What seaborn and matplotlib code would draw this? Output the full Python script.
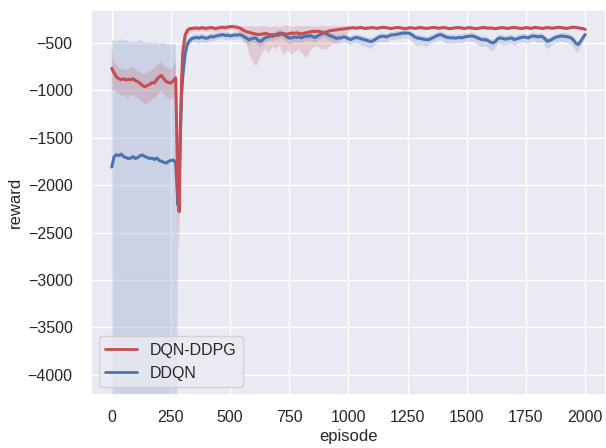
import matplotlib
matplotlib.use("Agg")
import matplotlib.pyplot as plt
import seaborn as sns
from matplotlib.lines import Line2D

# ---------------- data ----------------
ep_early = list(range(0, 280, 10))                 # 0..270
ep_crash = [275, 280, 285, 290, 295, 300]
ep_late = list(range(310, 2001, 10))               # 310..2000
episodes = ep_early + ep_crash + ep_late

red_mean = [
    -770, -820, -860, -880, -890, -880, -895, -885, -890, -880,
    -900, -910, -930, -950, -965, -950, -940, -920, -925, -890,
    -860, -845, -880, -910, -920, -925, -900, -870,
    -1500, -2150, -2280, -1400, -900, -600,
    -420, -370, -352, -350, -348, -345, -350, -342, -346, -350,
    -344, -340, -347, -352, -345, -340, -338, -342, -335, -332,
    -330, -334, -340, -345, -360, -375, -385, -392, -398, -405,
    -410, -415, -412, -408, -402, -410, -418, -415, -420, -423,
    -415, -410, -405, -412, -405, -398, -402, -397, -400, -408,
    -402, -395, -390, -385, -380, -383, -378, -385, -392, -394,
    -385, -375, -372, -368, -365, -360, -358, -355, -352, -350,
    -346, -342, -348, -345, -340, -344, -350, -347, -343, -341,
    -345, -349, -344, -340, -338, -343, -347, -351, -346, -342,
    -340, -344, -348, -352, -347, -343, -345, -349, -346, -341,
    -343, -347, -350, -346, -342, -339, -344, -348, -345, -341,
    -344, -349, -353, -348, -344, -340, -343, -347, -350, -346,
    -342, -345, -349, -352, -348, -343, -340, -344, -347, -345,
    -349, -353, -348, -344, -341, -345, -350, -347, -342, -339,
    -343, -347, -351, -346, -342, -345, -349, -344, -340, -343,
    -347, -350, -346, -341, -344, -348, -345, -340, -338, -342,
    -346, -350, -345, -341, -337, -340, -344, -348, -352, -360,
]
red_low = [
    -1010, -1000, -1020, -1040, -1060, -1050, -1070, -1080, -1060, -1050,
    -1070, -1090, -1110, -1130, -1150, -1140, -1120, -1100, -1090, -1060,
    -1030, -1010, -1040, -1070, -1090, -1100, -1080, -1060,
    -1800, -2500, -2700, -1900, -1200, -800,
    -520, -440, -405, -390, -385, -380, -388, -378, -382, -390,
    -384, -376, -383, -392, -385, -378, -372, -380, -372, -368,
    -365, -372, -380, -390, -430, -490, -520, -620, -680, -720,
    -750, -700, -640, -600, -560, -620, -590, -540, -570, -556,
    -530, -600, -627, -580, -600, -627, -600, -590, -570, -600,
    -630, -660, -640, -580, -560, -540, -540, -560, -575, -560,
    -575, -540, -520, -510, -503, -480, -450, -430, -415, -400,
    -360, -356, -362, -358, -354, -358, -364, -361, -357, -355,
    -359, -363, -358, -354, -352, -357, -361, -365, -360, -356,
    -354, -358, -362, -366, -361, -357, -359, -363, -360, -355,
    -357, -361, -364, -360, -356, -353, -358, -362, -359, -355,
    -358, -363, -367, -362, -358, -354, -357, -361, -364, -360,
    -356, -359, -363, -366, -362, -357, -354, -358, -361, -359,
    -363, -367, -362, -358, -355, -359, -364, -361, -356, -353,
    -357, -361, -365, -360, -356, -359, -363, -358, -354, -357,
    -361, -364, -360, -355, -358, -362, -359, -354, -352, -356,
    -360, -364, -359, -355, -351, -354, -358, -362, -366, -375,
]
red_high = [
    -540, -700, -740, -760, -780, -770, -790, -780, -770, -760,
    -780, -800, -810, -820, -830, -810, -800, -780, -770, -740,
    -720, -710, -740, -760, -770, -780, -740, -700,
    -1200, -1800, -1900, -1100, -700, -480,
    -360, -340, -335, -330, -328, -326, -330, -325, -328, -332,
    -327, -322, -328, -334, -328, -322, -320, -324, -318, -315,
    -312, -316, -322, -325, -326, -330, -332, -328, -325, -330,
    -334, -330, -326, -322, -328, -332, -335, -330, -326, -330,
    -334, -328, -324, -320, -326, -330, -333, -328, -324, -327,
    -331, -326, -322, -325, -329, -333, -328, -324, -321, -326,
    -330, -327, -323, -320, -324, -328, -326, -322, -320, -323,
    -333, -330, -335, -333, -328, -331, -337, -334, -330, -328,
    -332, -336, -331, -327, -325, -330, -334, -338, -333, -329,
    -327, -331, -335, -339, -334, -330, -332, -336, -333, -328,
    -330, -334, -337, -333, -329, -326, -331, -335, -332, -328,
    -331, -336, -340, -335, -331, -327, -330, -334, -337, -333,
    -329, -332, -336, -339, -335, -330, -327, -331, -334, -332,
    -336, -340, -335, -331, -328, -332, -337, -334, -329, -326,
    -330, -334, -338, -333, -329, -332, -336, -331, -327, -330,
    -334, -337, -333, -328, -331, -335, -332, -327, -325, -329,
    -333, -337, -332, -328, -324, -327, -331, -335, -339, -345,
]

blue_mean = [
    -1810, -1700, -1680, -1690, -1673, -1700, -1710, -1720, -1716, -1700,
    -1720, -1710, -1690, -1684, -1700, -1710, -1720, -1716, -1730, -1716,
    -1740, -1750, -1760, -1768, -1750, -1740, -1737, -1760,
    -2000, -2210, -1900, -1450, -1050, -850,
    -620, -510, -475, -455, -450, -445, -452, -440, -448, -455,
    -445, -435, -440, -430, -425, -420, -415, -425, -420, -430,
    -425, -418, -422, -415, -425, -440, -455, -470, -460, -450,
    -455, -480, -486, -465, -445, -440, -430, -433, -420, -410,
    -398, -405, -420, -440, -452, -450, -440, -445, -438, -448,
    -440, -430, -433, -425, -438, -445, -430, -415, -405, -398,
    -410, -425, -433, -445, -455, -450, -450, -440, -445, -460,
    -468, -455, -445, -450, -455, -465, -470, -478, -486, -486,
    -470, -455, -440, -433, -433, -440, -430, -420, -418, -415,
    -410, -405, -398, -400, -398, -405, -420, -440, -450, -455,
    -460, -465, -468, -468, -455, -445, -430, -420, -415, -425,
    -440, -445, -450, -448, -452, -450, -445, -450, -440, -435,
    -433, -430, -433, -445, -455, -465, -470, -468, -480, -495,
    -503, -490, -460, -450, -455, -462, -460, -455, -450, -468,
    -460, -452, -445, -440, -445, -450, -435, -430, -433, -440,
    -433, -438, -460, -485, -478, -465, -450, -440, -435, -430,
    -433, -435, -440, -450, -470, -505, -520, -490, -450, -415,
]
blue_low = [
    -4215, -4215, -4215, -4215, -4215, -4215, -4215, -4215, -4215, -4215,
    -4215, -4215, -4215, -4215, -4215, -4215, -4215, -4215, -4215, -4215,
    -4215, -4215, -4215, -4215, -4215, -4215, -4215, -4215,
    -4215, -2400, -2100, -1600, -1200, -950,
    -700, -560, -520, -500, -495, -500, -520, -490, -500, -510,
    -495, -480, -490, -475, -470, -465, -460, -475, -470, -480,
    -475, -465, -470, -460, -475, -500, -510, -530, -510, -500,
    -510, -540, -545, -520, -495, -490, -480, -485, -470, -460,
    -450, -460, -480, -500, -520, -515, -495, -500, -490, -510,
    -495, -480, -490, -475, -490, -505, -480, -465, -455, -450,
    -465, -480, -490, -505, -520, -510, -515, -495, -500, -520,
    -530, -510, -505, -515, -520, -535, -540, -550, -565, -560,
    -530, -510, -495, -490, -495, -500, -485, -475, -480, -470,
    -465, -460, -455, -460, -455, -470, -490, -520, -540, -530,
    -525, -535, -540, -530, -510, -500, -490, -480, -470, -485,
    -505, -510, -520, -505, -515, -510, -500, -515, -495, -490,
    -490, -485, -495, -510, -525, -540, -545, -535, -555, -580,
    -590, -560, -520, -510, -520, -535, -525, -515, -510, -535,
    -520, -510, -500, -495, -505, -520, -495, -485, -490, -505,
    -495, -500, -530, -570, -550, -530, -510, -500, -495, -490,
    -495, -500, -510, -520, -545, -590, -600, -555, -500, -460,
]
blue_high = [
    -480, -470, -490, -475, -460, -480, -470, -490, -495, -480,
    -500, -490, -470, -485, -500, -495, -490, -505, -495, -500,
    -510, -505, -500, -515, -510, -520, -515, -520,
    -1700, -2000, -1600, -1100, -800, -650,
    -560, -470, -440, -420, -415, -410, -417, -405, -413, -420,
    -410, -400, -405, -395, -390, -385, -380, -390, -385, -395,
    -390, -383, -387, -380, -390, -405, -420, -435, -425, -415,
    -420, -445, -450, -430, -410, -405, -395, -398, -385, -375,
    -363, -370, -385, -405, -417, -415, -405, -410, -403, -413,
    -405, -395, -398, -390, -403, -410, -395, -380, -370, -363,
    -375, -390, -398, -410, -420, -415, -415, -405, -410, -425,
    -433, -420, -410, -415, -420, -430, -435, -443, -451, -451,
    -435, -420, -405, -398, -398, -405, -395, -385, -383, -380,
    -375, -370, -363, -365, -363, -370, -385, -405, -415, -420,
    -425, -430, -433, -433, -420, -410, -395, -385, -380, -390,
    -405, -410, -415, -413, -417, -415, -410, -415, -405, -400,
    -398, -395, -398, -410, -420, -430, -435, -433, -445, -460,
    -468, -455, -425, -415, -420, -427, -425, -420, -415, -433,
    -425, -417, -410, -405, -410, -415, -400, -395, -398, -405,
    -398, -403, -425, -450, -443, -430, -415, -405, -400, -395,
    -398, -400, -405, -415, -435, -470, -485, -455, -415, -380,
]

series_names = ["DQN-DDPG", "DDQN"]
x_ticks = [0, 250, 500, 750, 1000, 1250, 1500, 1750, 2000]
y_ticks = [-4000, -3500, -3000, -2500, -2000, -1500, -1000, -500]

# ---------------- style ----------------
sns.set_theme(style="darkgrid")
plt.rcParams["font.family"] = ["Liberation Sans", "DejaVu Sans"]
pal = sns.color_palette("deep")
c_red, c_blue = pal[3], pal[0]

fig = plt.figure(figsize=(6.06, 4.48), dpi=100)
ax = fig.add_axes([90.7 / 606, (448 - 395) / 448, (606 - 90.7) / 606, (395 - 10) / 448])

ax.fill_between(episodes, blue_low, blue_high, color=c_blue, alpha=0.2,
                linewidth=0, edgecolor="none")
ax.fill_between(episodes, red_low, red_high, color=c_red, alpha=0.2,
                linewidth=0, edgecolor="none")
sns.lineplot(x=episodes, y=blue_mean, color=c_blue, linewidth=2.2, ax=ax, zorder=3)
sns.lineplot(x=episodes, y=red_mean, color=c_red, linewidth=2.2, ax=ax, zorder=4)

ax.set_xlim(-89, 2088)
ax.set_ylim(-4211, -156)
ax.set_xticks(x_ticks)
ax.set_yticks(y_ticks)
ax.tick_params(axis="y", labelsize=11.5, pad=7)
ax.tick_params(axis="x", labelsize=11.5, pad=5)
ax.set_xlabel("episode", fontsize=12, labelpad=3)
ax.set_ylabel("reward", fontsize=12, labelpad=3.5)

handles = [Line2D([], [], color=c_red, linewidth=2.0),
           Line2D([], [], color=c_blue, linewidth=2.0)]
ax.legend(handles, series_names, loc="lower left", fontsize=11.5)

fig.savefig("out.png", dpi=100)
